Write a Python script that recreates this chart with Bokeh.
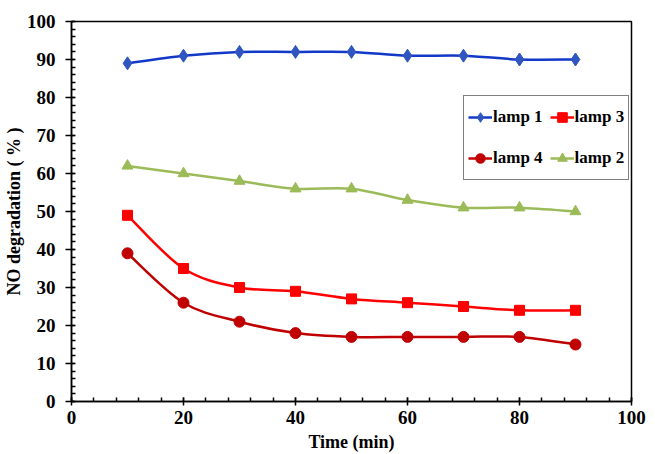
import numpy as np
from bokeh.plotting import figure
from bokeh.models import Range1d, SingleIntervalTicker, Legend, LegendItem
from bokeh.embed import file_html
from bokeh.resources import INLINE

time_min = [10, 20, 30, 40, 50, 60, 70, 80, 90]
lamp1 = [89, 91, 92, 92, 92, 91, 91, 90, 90]
lamp2 = [62, 60, 58, 56, 56, 53, 51, 51, 50]
lamp3 = [49, 35, 30, 29, 27, 26, 25, 24, 24]
lamp4 = [39, 26, 21, 18, 17, 17, 17, 17, 15]

FONT = "Liberation Serif"

p = figure(width=655, height=454, frame_width=560, frame_height=380,
           output_backend="svg", toolbar_location=None,
           x_range=Range1d(0, 100), y_range=Range1d(0, 100),
           min_border_left=70, min_border_right=25, min_border_top=21, min_border_bottom=53)
p.grid.visible = False
p.outline_line_color = "black"
p.outline_line_width = 1.5
p.background_fill_color = "white"
p.border_fill_color = "white"

p.xaxis.ticker = SingleIntervalTicker(interval=20, num_minor_ticks=5)
p.yaxis.ticker = SingleIntervalTicker(interval=10, num_minor_ticks=5)
for ax in (p.xaxis[0], p.yaxis[0]):
    ax.axis_line_width = 1.5
    ax.major_tick_line_width = 1.5
    ax.minor_tick_line_width = 1.5
    ax.major_label_text_font = FONT
    ax.major_label_text_font_style = "bold"
    ax.major_label_text_font_size = "19px"
    ax.major_label_text_color = "black"
    ax.axis_label_text_font = FONT
    ax.axis_label_text_font_style = "bold"
    ax.axis_label_text_font_size = "18px"
    ax.axis_label_text_color = "black"
    ax.minor_tick_in = 4
    ax.minor_tick_out = 0
p.xaxis.major_tick_in = 4
p.xaxis.major_tick_out = 4
p.xaxis.major_label_standoff = 5
p.xaxis.axis_label = "Time (min)"
p.xaxis.axis_label_standoff = 5
p.yaxis.major_tick_in = 3
p.yaxis.major_tick_out = 6
p.yaxis.major_label_standoff = 10
p.yaxis.axis_label = "NO degradation ( % )"
p.yaxis.axis_label_standoff = 0


def bezier_parts(xs, ys, t=1.0 / 6.0):
    xs = np.asarray(xs, float)
    ys = np.asarray(ys, float)
    n = len(xs)
    x0, y0, x1, y1, cx0, cy0, cx1, cy1 = ([] for _ in range(8))
    for i in range(n - 1):
        im = max(i - 1, 0)
        ip = min(i + 2, n - 1)
        x0.append(xs[i]); y0.append(ys[i])
        x1.append(xs[i + 1]); y1.append(ys[i + 1])
        cx0.append(xs[i] + (xs[i + 1] - xs[im]) * t)
        cy0.append(ys[i] + (ys[i + 1] - ys[im]) * t)
        cx1.append(xs[i + 1] - (xs[ip] - xs[i]) * t)
        cy1.append(ys[i + 1] - (ys[ip] - ys[i]) * t)
    return dict(x0=x0, y0=y0, x1=x1, y1=y1, cx0=cx0, cy0=cy0, cx1=cx1, cy1=cy1)


series = [
    ("lamp 1", lamp1, "#1238C8", "#2F56C0", "diamond", 13),
    ("lamp 4", lamp4, "#C00000", "#C00000", "circle", 11),
    ("lamp 3", lamp3, "#FF0000", "#FF0000", "square", 10),
    ("lamp 2", lamp2, "#9BBB59", "#9BBB59", "triangle", 11),
]

items = []
for name, vals, lcol, mcol, marker, size in series:
    b = p.bezier(source=bezier_parts(time_min, vals), x0="x0", y0="y0", x1="x1", y1="y1",
                 cx0="cx0", cy0="cy0", cx1="cx1", cy1="cy1",
                 line_color=lcol, line_width=2.5)
    s = p.scatter(time_min, vals, marker=marker, size=size, fill_color=mcol,
                  line_color=mcol, line_width=1)
    items.append(LegendItem(label=name, renderers=[b, s]))

legend = Legend(items=items, location=(392, 221), ncols=2,
                label_text_font=FONT, label_text_font_style="bold",
                label_text_font_size="17px", label_text_color="black",
                label_standoff=1, glyph_width=24, glyph_height=34, label_height=34,
                spacing=7, padding=4, margin=0,
                border_line_color="black", border_line_width=1.5,
                background_fill_alpha=1.0)
p.add_layout(legend, "center")

open("out.html", "w").write(file_html(p, INLINE))
